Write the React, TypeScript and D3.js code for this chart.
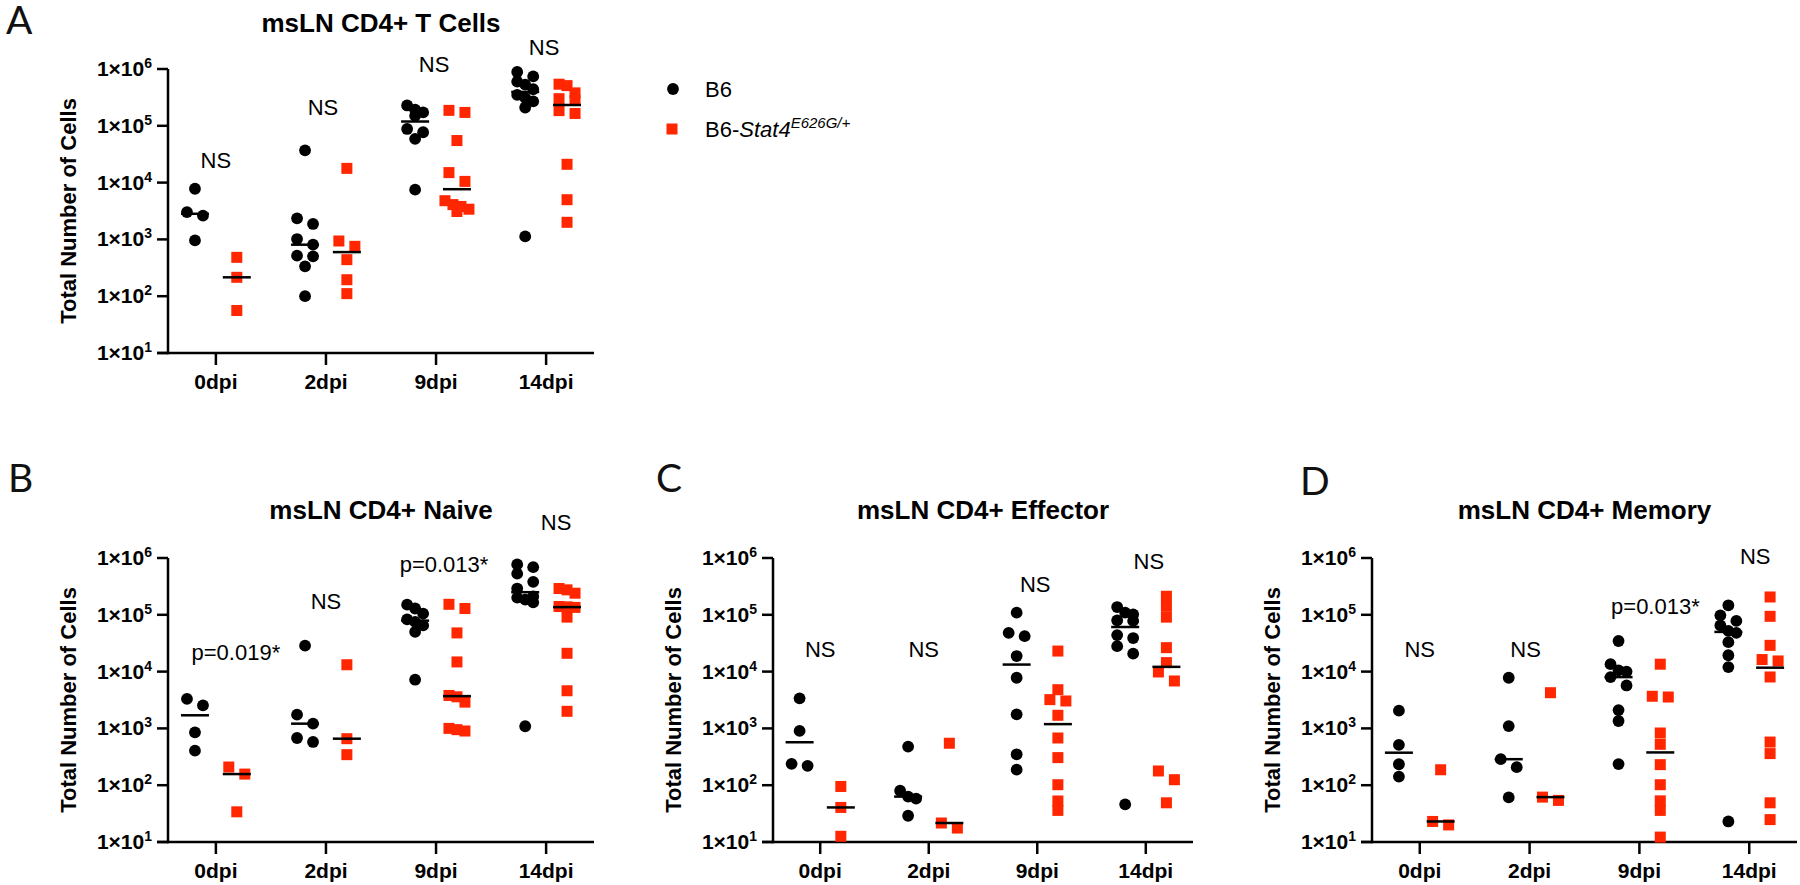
import React from "react";
import * as d3 from "d3";

// ---------- data ----------
const categories = ["0dpi", "2dpi", "9dpi", "14dpi"];
const seriesNames = ["B6", "B6-Stat4"];

// Panel A: msLN CD4+ T Cells
const tCellsB6 = [
  [7800, 3030, 2620, 960],
  [37000, 2350, 1870, 1015, 807, 517, 504, 336, 100],
  [228000, 192000, 172000, 150000, 88000, 77000, 59000, 7500],
  [885000, 740000, 600000, 530000, 440000, 350000, 310000, 270000, 210000, 1130],
];
const tCellsStat4 = [
  [483, 215, 56],
  [17800, 937, 755, 440, 195, 111],
  [187000, 172000, 55000, 15000, 10500, 4800, 4100, 3800, 3400, 3100],
  [540000, 510000, 380000, 300000, 280000, 185000, 165000, 21000, 5000, 2000],
];
// Panel B: msLN CD4+ Naive
const naiveB6 = [
  [3300, 2550, 853, 405],
  [28600, 1745, 1212, 677, 577],
  [151000, 129000, 105000, 83000, 75000, 65000, 50000, 7200],
  [770000, 690000, 530000, 380000, 290000, 210000, 200000, 185000, 165000, 1090],
];
const naiveStat4 = [
  [209, 157, 34],
  [13200, 659, 345],
  [153000, 129000, 48000, 14800, 3800, 3600, 2900, 1000, 950, 900],
  [290000, 275000, 240000, 140000, 138000, 135000, 91000, 21000, 4600, 2000],
];
// Panel C: msLN CD4+ Effector
const effectorB6 = [
  [3380, 903, 238, 219],
  [479, 80, 63, 58, 29],
  [109000, 48000, 42000, 18800, 7800, 1770, 350, 188],
  [137000, 109000, 102000, 80000, 78000, 44000, 39000, 28000, 20700, 46],
];
const effectorStat4 = [
  [95, 40.6, 12.6],
  [548, 21.6, 17.6],
  [23000, 4800, 3210, 3040, 1700, 678, 306, 102, 52.7, 36],
  [212000, 141000, 91000, 26400, 14400, 9850, 6840, 178, 125, 49],
];
// Panel D: msLN CD4+ Memory
const memoryB6 = [
  [2050, 513, 234, 142],
  [7800, 1100, 287, 208, 61],
  [34600, 13500, 10500, 10000, 8000, 5700, 2100, 1350, 235],
  [147000, 98000, 78000, 65000, 52000, 48000, 33000, 19400, 12000, 23],
];
const memoryStat4 = [
  [187, 23, 20],
  [4250, 61.7, 54],
  [13500, 3680, 3570, 830, 525, 230, 102, 53, 36, 12.2],
  [206000, 94000, 29000, 16300, 15400, 8040, 575, 360, 49, 24.8],
];

// significance labels: text and the value level of their baseline
const tCellsSig = ["NS", "NS", "NS", "NS"];
const tCellsSigLevel = [18000, 155000, 890000, 1760000];
const naiveSig = ["p=0.019*", "NS", "p=0.013*", "NS"];
const naiveSigLevel = [16300, 129000, 567000, 3070000];
const effectorSig = ["NS", "NS", "NS", "NS"];
const effectorSigLevel = [18000, 18000, 250000, 650000];
const memorySig = ["NS", "NS", "p=0.013*", "NS"];
const memorySigLevel = [18200, 18200, 105000, 790000];

const yTickValues = [10, 100, 1000, 10000, 100000, 1000000];

// ---------- layout ----------
const FONT = "'Liberation Sans', Arial, Helvetica, sans-serif";
const RED = "#FF2600";
const W = 1800;
const H = 885;

type Panel = {
  letter: string;
  title: string;
  b6: number[][];
  stat4: number[][];
  sig: string[];
  sigLevel: number[];
  sigDx: number[];
  x0: number;
  x1: number;
  yTop: number;
  yBot: number;
  titleY: number;
  lx: number;
  ly: number;
};

const panels: Panel[] = [
  { letter: "A", title: "msLN CD4+ T Cells", b6: tCellsB6, stat4: tCellsStat4, sig: tCellsSig, sigLevel: tCellsSigLevel, sigDx: [0, -3, -2, -2],
    x0: 168, x1: 594, yTop: 69, yBot: 353, titleY: 32, lx: 6, ly: 34 },
  { letter: "B", title: "msLN CD4+ Naive", b6: naiveB6, stat4: naiveStat4, sig: naiveSig, sigLevel: naiveSigLevel, sigDx: [20, 0, 8, 10],
    x0: 168, x1: 594, yTop: 558, yBot: 842, titleY: 519, lx: 8, ly: 492 },
  { letter: "C", title: "msLN CD4+ Effector", b6: effectorB6, stat4: effectorStat4, sig: effectorSig, sigLevel: effectorSigLevel, sigDx: [0, -5, -2, 3],
    x0: 773, x1: 1193, yTop: 558, yBot: 842, titleY: 519, lx: 656, ly: 492 },
  { letter: "D", title: "msLN CD4+ Memory", b6: memoryB6, stat4: memoryStat4, sig: memorySig, sigLevel: memorySigLevel, sigDx: [0, -4, 16, 6],
    x0: 1372, x1: 1797, yTop: 558, yBot: 842, titleY: 519, lx: 1300, ly: 495 },
];

const R = 5.9; // circle radius
const SQ = 11; // square side
const COL = 8; // horizontal spread step

function swarm(values: number[], y: (v: number) => number) {
  const pts = values.map((v) => ({ v, y: y(v), dx: 0 })).sort((a, b) => a.y - b.y);
  let i = 0;
  while (i < pts.length) {
    let j = i + 1;
    while (j < pts.length && pts[j].y - pts[i].y < 9) j++;
    const n = j - i;
    if (n === 2) {
      pts[i].dx = -COL;
      pts[i + 1].dx = COL;
    } else if (n > 2) {
      for (let k = 0; k < n; k++) pts[i + k].dx = (k - (n - 1) / 2) * COL;
    }
    i = j;
  }
  return pts;
}

function PanelView({ p }: { p: Panel }) {
  const x = d3.scalePoint<string>().domain(categories).range([p.x0, p.x1]).padding(0.435);
  const y = d3.scaleLog().domain([10, 1e6]).range([p.yBot, p.yTop]);
  const off = x.step() * 0.19;
  const cx = (p.x0 + p.x1) / 2;
  const cy = (p.yTop + p.yBot) / 2;
  const sw = 2.5;
  return (
    <g>
      <text x={p.lx} y={p.ly} fontFamily="Lato, 'Open Sans', sans-serif" fontSize={39} fill="#111">
        {p.letter}
      </text>
      <text x={cx} y={p.titleY} textAnchor="middle" fontFamily={FONT} fontWeight="bold" fontSize={26}>
        {p.title}
      </text>
      {/* axes */}
      <line x1={p.x0} x2={p.x0} y1={p.yTop} y2={p.yBot + sw / 2} stroke="#000" strokeWidth={sw} />
      <line x1={p.x0 - 11} x2={p.x1} y1={p.yBot} y2={p.yBot} stroke="#000" strokeWidth={sw} />
      {yTickValues.map((t) => {
        const exp = Math.round(Math.log10(t));
        return (
          <g key={t}>
            <line x1={p.x0 - 11} x2={p.x0} y1={y(t)} y2={y(t)} stroke="#000" strokeWidth={sw} />
            <text x={p.x0 - 16} y={y(t) + 7} textAnchor="end" fontFamily={FONT} fontWeight="bold" fontSize={21}>
              1×10
              <tspan dy={-8} fontSize={14}>
                {exp}
              </tspan>
            </text>
          </g>
        );
      })}
      {categories.map((c) => (
        <g key={c}>
          <line x1={x(c)} x2={x(c)} y1={p.yBot} y2={p.yBot + 12} stroke="#000" strokeWidth={sw} />
          <text x={x(c)} y={p.yBot + 36} textAnchor="middle" fontFamily={FONT} fontWeight="bold" fontSize={21}>
            {c}
          </text>
        </g>
      ))}
      <text
        transform={`translate(${p.x0 - 92},${cy}) rotate(-90)`}
        textAnchor="middle"
        fontFamily={FONT}
        fontWeight="bold"
        fontSize={22}
      >
        Total Number of Cells
      </text>
      {/* points */}
      {categories.map((c, ci) => {
        const gx0 = (x(c) as number) - off;
        const gx1 = (x(c) as number) + off;
        const b = swarm(p.b6[ci], y);
        const s = swarm(p.stat4[ci], y);
        const m0 = d3.median(p.b6[ci]) as number;
        const m1 = d3.median(p.stat4[ci]) as number;
        return (
          <g key={c}>
            {b.map((pt, k) => (
              <circle key={"b" + k} cx={gx0 + pt.dx} cy={pt.y} r={R} fill="#000" />
            ))}
            {s.map((pt, k) => (
              <rect key={"s" + k} x={gx1 + pt.dx - SQ / 2} y={pt.y - SQ / 2} width={SQ} height={SQ} fill={RED} />
            ))}
            <line x1={gx0 - 14} x2={gx0 + 14} y1={y(m0)} y2={y(m0)} stroke="#000" strokeWidth={2.5} />
            <line x1={gx1 - 14} x2={gx1 + 14} y1={y(m1)} y2={y(m1)} stroke="#000" strokeWidth={2.5} />
            <text
              x={(x(c) as number) + p.sigDx[ci]}
              y={y(p.sigLevel[ci])}
              textAnchor="middle"
              fontFamily={FONT}
              fontSize={22}
            >
              {p.sig[ci]}
            </text>
          </g>
        );
      })}
    </g>
  );
}

export default function App() {
  return (
    <div style={{ position: "absolute", left: 0, top: 0, background: "#fff" }}>
      <svg width={W} height={H} viewBox={`0 0 ${W} ${H}`} style={{ display: "block" }}>
        <rect width={W} height={H} fill="#fff" />
        {panels.map((p) => (
          <PanelView key={p.letter} p={p} />
        ))}
        {/* legend */}
        <g fontFamily={FONT} fontSize={22}>
          <circle cx={673} cy={89} r={R} fill="#000" />
          <text x={705} y={97}>
            {seriesNames[0]}
          </text>
          <rect x={672 - SQ / 2} y={129 - SQ / 2} width={SQ} height={SQ} fill={RED} />
          <text x={705} y={137}>
            B6-
            <tspan fontStyle="italic">Stat4</tspan>
            <tspan fontStyle="italic" fontSize={15} dy={-9}>
              E626G/+
            </tspan>
          </text>
        </g>
      </svg>
    </div>
  );
}
